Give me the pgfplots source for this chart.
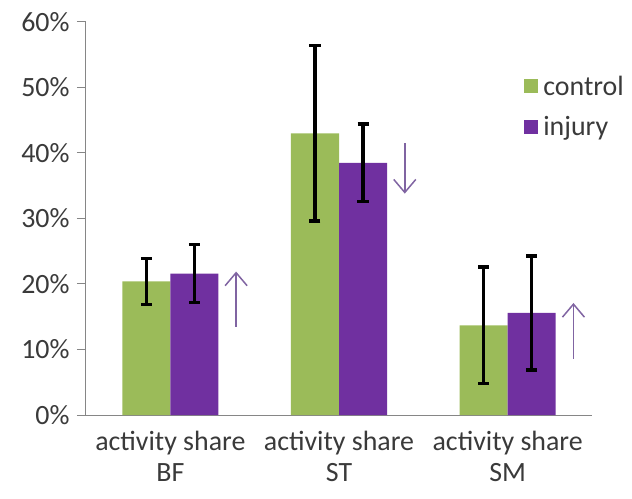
\documentclass[border=0pt]{standalone}
\usepackage{pgfplots}
\pgfplotsset{compat=1.18}
\usetikzlibrary{arrows.meta}
\usepackage{fontspec}
\setmainfont{Carlito}
\definecolor{ctrl}{HTML}{9BBB59}
\definecolor{inj}{HTML}{7030A0}
\definecolor{arr}{HTML}{8064A2}
\definecolor{axgray}{HTML}{868686}
\definecolor{txt}{HTML}{3A3A3A}
\begin{document}
\begin{tikzpicture}
\begin{axis}[
  name=ax,
  /pgf/number format/assume math mode=true,
  scale only axis, width=506bp, height=393bp,
  xmin=-0.5, xmax=2.5, ymin=0, ymax=60,
  ybar=0pt, bar width=48bp,
  axis x line=bottom, axis y line=left,
  axis line style={axgray, line width=1bp, -},
  tick style={axgray, line width=1bp},
  tick align=outside, major tick length=9bp,
  ytick={0,10,...,60},
  yticklabel={\pgfmathprintnumber{\tick}\%},
  xtick={0,1,2},
  xticklabels={activity share\\BF, activity share\\ST, activity share\\SM},
  major x tick style={draw=none},
  extra x ticks={-0.5,0.5,1.5,2.5},
  extra x tick labels={},
  extra x tick style={major x tick style={axgray, line width=1bp}},
  x tick label style={align=center, font=\fontsize{28}{31}\selectfont, text=txt, yshift=-4bp},
  y tick label style={font=\fontsize{28}{31}\selectfont, text=txt, xshift=-4bp},
  legend style={at={(0.86,0.785)}, anchor=west, draw=none, fill=none,
    font=\fontsize{28}{31}\selectfont, text=txt, row sep=16bp,
    nodes={inner xsep=5bp}},
  legend cell align=left,
  legend image code/.code={\fill[#1] (0bp,-7bp) rectangle (14bp,7bp);},
  error bars/error bar style={line width=3.4bp, black},
  error bars/error mark options={rotate=90, mark size=5.5bp, line width=3.4bp, black},
]
\addplot[fill=ctrl, draw=none, error bars/.cd, y dir=both, y explicit]
  coordinates {(0,20.4) +- (0,3.5) (1,43.0) +- (0,13.4) (2,13.7) +- (0,8.9)};
\addplot[fill=inj, draw=none, error bars/.cd, y dir=both, y explicit]
  coordinates {(0,21.6) +- (0,4.4) (1,38.5) +- (0,5.9) (2,15.6) +- (0,8.7)};
\legend{control, injury}
\draw[arr, line width=1.5bp, -{Straight Barb[length=13bp,width=22bp]}] (axis cs:0.39,13.5) -- (axis cs:0.39,21.9);
\draw[arr, line width=1.5bp, -{Straight Barb[length=13bp,width=22bp]}] (axis cs:1.39,41.5) -- (axis cs:1.39,33.8);
\draw[arr, line width=1.5bp, -{Straight Barb[length=13bp,width=22bp]}] (axis cs:2.39,8.6) -- (axis cs:2.39,17.1);
\end{axis}
\pgfresetboundingbox
\path (ax.south west) ++(-86bp,-84bp) rectangle ++(632bp,499bp);
\end{tikzpicture}
\end{document}
